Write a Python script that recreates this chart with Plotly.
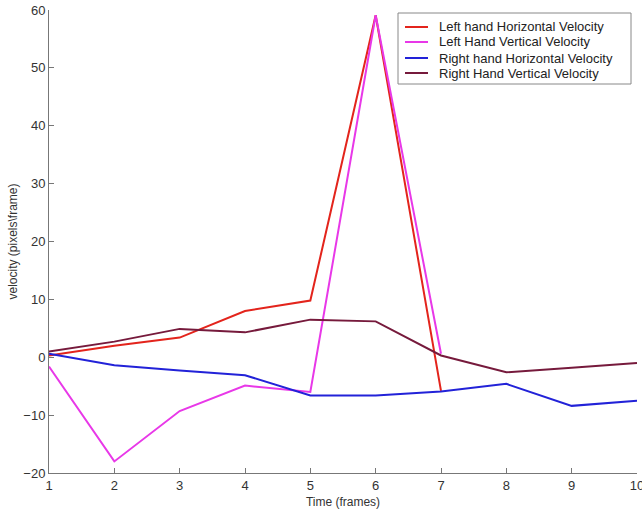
import plotly.graph_objects as go

frames = [1, 2, 3, 4, 5, 6, 7, 8, 9, 10]
left_h = [0.3, 2.0, 3.4, 8.0, 9.8, 59.1, -5.8, None, None, None]
left_v = [-1.6, -18.0, -9.3, -4.9, -6.0, 59.1, 0.6, None, None, None]
right_h = [0.6, -1.4, -2.3, -3.1, -6.6, -6.6, -5.9, -4.6, -8.4, -7.5]
right_v = [1.0, 2.7, 4.9, 4.3, 6.5, 6.2, 0.3, -2.6, -1.8, -1.0]
yticks = [-20, -10, 0, 10, 20, 30, 40, 50, 60]

names = ["Left hand Horizontal Velocity", "Left Hand Vertical Velocity",
         "Right hand Horizontal Velocity", "Right Hand Vertical Velocity"]
colors = ["#e3241c", "#e838e8", "#2222d8", "#761a3c"]
series = [left_h, left_v, right_h, right_v]

W, H = 642, 510
L, R, T, B = 49, 5, 10, 37
pw, ph = W - L - R, H - T - B

def px(x):
    return (x - L) / pw

def py(y):
    return (H - B - y) / ph

fig = go.Figure()
for n, c, s in zip(names, colors, series):
    fig.add_trace(go.Scatter(x=frames, y=s, mode="lines", name=n,
                             line=dict(color=c, width=2), showlegend=False))

# custom legend box (matches the MATLAB legend's compact layout)
shapes = [dict(type="rect", xref="paper", yref="paper",
               x0=px(398), x1=px(631), y0=py(13), y1=py(84),
               line=dict(color="#888888", width=1), fillcolor="white", layer="above")]
annotations = []
row_y = [27, 42, 58, 73]
for n, c, ry in zip(names, colors, row_y):
    shapes.append(dict(type="line", xref="paper", yref="paper",
                       x0=px(405), x1=px(428), y0=py(ry), y1=py(ry),
                       line=dict(color=c, width=2), layer="above"))
    annotations.append(dict(xref="paper", yref="paper", x=px(437), y=py(ry),
                            xanchor="left", yanchor="middle", showarrow=False,
                            text=n, font=dict(family="Liberation Sans, Arial", size=13, color="#222222")))

font = dict(family="Liberation Sans, Arial", size=13, color="#333333")
fig.update_layout(
    width=W, height=H,
    margin=dict(l=L, r=R, t=T, b=B),
    paper_bgcolor="white", plot_bgcolor="white",
    font=font,
    showlegend=False,
    shapes=shapes, annotations=annotations,
    xaxis=dict(range=[1, 10], tickvals=frames, showgrid=False, zeroline=False,
               showline=True, linecolor="#777777", linewidth=1,
               ticks="inside", ticklen=5, tickcolor="#777777",
               automargin=False, ticklabeloverflow="allow",
               title=dict(text="Time (frames)", standoff=6, font=dict(size=12)),
               tickfont=dict(size=13)),
    yaxis=dict(range=[-20, 60], tickvals=yticks,
               showgrid=False, zeroline=False,
               showline=True, linecolor="#777777", linewidth=1,
               ticks="inside", ticklen=5, tickcolor="#777777",
               automargin=False, ticklabeloverflow="allow",
               title=dict(text="velocity (pixels\\frame)", standoff=3, font=dict(size=12)),
               tickfont=dict(size=13)),
)
fig.write_html("out.html", config={"displayModeBar": False},
               post_script="document.body.style.margin='0px';document.body.style.overflow='hidden';")
